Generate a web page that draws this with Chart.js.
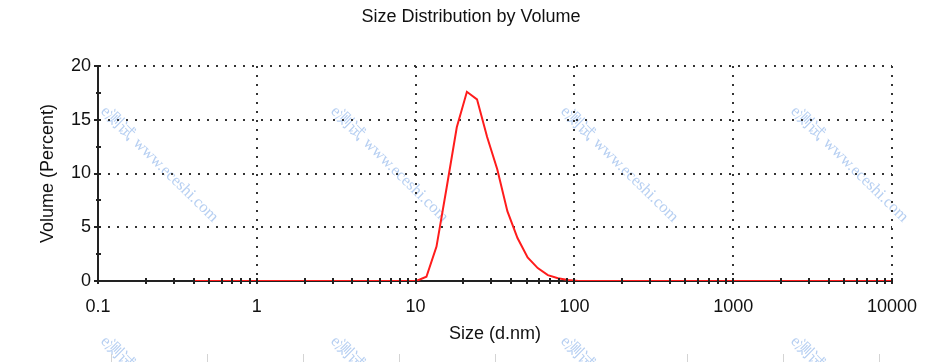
<!DOCTYPE html>
<html>
<head>
<meta charset="utf-8">
<script src="https://cdn.jsdelivr.net/npm/chart.js@4.4.1/dist/chart.umd.min.js"></script>
<style>
  html, body { margin: 0; padding: 0; background: #fff; }
  #wrap { width: 951px; height: 362px; }
</style>
</head>
<body>
<div id="wrap"><canvas id="sizeChart" width="951" height="362"></canvas></div>
<script>
// size bins (d.nm) and volume percent
const sizes = [
  0.4, 0.4632, 0.5365, 0.6213, 0.7195, 0.8332, 0.9649,
  1.117, 1.294, 1.499, 1.736, 2.01, 2.328, 2.696, 3.122, 3.615, 4.187, 4.849, 5.615, 6.503, 7.531, 8.721,
  10.1, 11.7, 13.54, 15.69, 18.17, 21.04, 24.36, 28.21, 32.67, 37.84, 43.82, 50.75, 58.77, 68.06, 78.82, 91.28,
  105.7, 122.4, 141.8, 164.2, 190.1, 220.2, 255, 295.3, 342, 396.1, 458.7, 531.2, 615.1, 712.4, 825, 955.4,
  1106, 1281, 1484, 1718, 1990, 2305, 2669, 3091, 3580, 4145, 4801, 5560, 6439, 7456, 8635, 10000
];
const volume = [
  0, 0, 0, 0, 0, 0, 0,
  0, 0, 0, 0, 0, 0, 0, 0, 0, 0, 0, 0, 0, 0, 0,
  0, 0.4, 3.2, 8.7, 14.3, 17.6, 16.9, 13.4, 10.4, 6.5, 4.0, 2.2, 1.2, 0.55, 0.25, 0.1,
  0, 0, 0, 0, 0, 0, 0, 0, 0, 0, 0, 0, 0, 0, 0, 0,
  0, 0, 0, 0, 0, 0, 0, 0, 0, 0, 0, 0, 0, 0, 0, 0
];

const xMajorTicks = [0.1, 1, 10, 100, 1000, 10000];
const yMajorTicks = [0, 5, 10, 15, 20];
const titleText = 'Size Distribution by Volume';
const xTitle = 'Size (d.nm)';
const yTitle = 'Volume (Percent)';
const watermark = 'e测试 www.eceshi.com';

const FONT = "'Liberation Sans', Arial, sans-serif";
const TEXT = '#111';

// minor ticks 2..9 inside every decade
const xTicks = [];
xMajorTicks.forEach((m, i) => {
  xTicks.push(m);
  if (i < xMajorTicks.length - 1) {
    for (let k = 2; k < 10; k++) xTicks.push(+(m * k).toPrecision(6));
  }
});
const yTicks = [];
yMajorTicks.forEach((m, i) => {
  yTicks.push(m);
  if (i < yMajorTicks.length - 1) yTicks.push(m + 2.5);
});

const isMajorX = v => xMajorTicks.some(m => Math.abs(m - v) < m * 1e-6);
const isMajorY = v => yMajorTicks.includes(v);

// background, watermark and page decorations
const pagePlugin = {
  id: 'page',
  beforeDraw(chart) {
    const ctx = chart.ctx;
    ctx.save();
    ctx.fillStyle = '#fff';
    ctx.fillRect(0, 0, chart.width, chart.height);

    ctx.font = "16.5px 'Liberation Serif', 'Times New Roman', serif";
    ctx.fillStyle = 'rgba(110, 160, 230, 0.5)';
    ctx.textBaseline = 'middle';
    [109, 339].forEach(y => {
      [103, 333, 563, 793].forEach(x => {
        ctx.save();
        ctx.translate(x, y);
        ctx.rotate(44.5 * Math.PI / 180);
        ctx.fillText(watermark, 0, 0);
        ctx.restore();
      });
    });

    ctx.strokeStyle = '#d4d4d4';
    ctx.lineWidth = 1;
    [111, 207, 303, 399, 495, 687, 783, 879].forEach(x => {
      ctx.beginPath();
      ctx.moveTo(x + 0.5, 354);
      ctx.lineTo(x + 0.5, 362);
      ctx.stroke();
    });
    ctx.restore();
  },
  afterDatasetsDraw(chart) {
    const ctx = chart.ctx;
    const xs = chart.scales.x, ys = chart.scales.y;
    const y0 = ys.getPixelForValue(0);
    const x0 = xs.getPixelForValue(0.1);
    ctx.save();
    ctx.strokeStyle = '#222';
    ctx.lineWidth = 2;
    xTicks.forEach(v => {
      const x = Math.round(xs.getPixelForValue(v));
      ctx.beginPath();
      ctx.moveTo(x, y0 - 3);
      ctx.lineTo(x, y0 + 3);
      ctx.stroke();
    });
    yTicks.forEach(v => {
      const y = Math.round(ys.getPixelForValue(v));
      const left = isMajorY(v) ? 4 : 2;
      ctx.beginPath();
      ctx.moveTo(x0 - left, y);
      ctx.lineTo(x0 + 3, y);
      ctx.stroke();
    });

    ctx.fillStyle = TEXT;
    ctx.font = '18px ' + FONT;
    ctx.textAlign = 'center';
    ctx.textBaseline = 'middle';
    ctx.fillText(titleText, 471, 17);
    ctx.restore();
  }
};

const ctx = document.getElementById('sizeChart').getContext('2d');
new Chart(ctx, {
  type: 'line',
  data: {
    datasets: [{
      data: sizes.map((s, i) => ({ x: s, y: volume[i] })),
      borderColor: '#ff1c1c',
      borderWidth: 2,
      pointRadius: 0,
      tension: 0,
      fill: false
    }]
  },
  options: {
    responsive: false,
    animation: false,
    events: [],
    layout: { padding: { left: 0, right: 59, top: 66, bottom: 0 } },
    plugins: {
      legend: { display: false },
      tooltip: { enabled: false },
      title: { display: false }
    },
    scales: {
      x: {
        type: 'logarithmic',
        min: 0.1,
        max: 10000,
        afterBuildTicks: s => { s.ticks = xTicks.map(v => ({ value: v })); },
        afterFit: s => { s.height = 81; },
        ticks: {
          autoSkip: false,
          maxRotation: 0,
          padding: 15,
          color: TEXT,
          font: { family: FONT, size: 18 },
          callback: v => isMajorX(v) ? String(v) : ''
        },
        grid: {
          drawTicks: false,
          color: c => (c.tick && isMajorX(c.tick.value) && c.tick.value !== 0.1) ? '#333' : 'transparent',
          lineWidth: 2
        },
        border: { display: true, color: '#222', width: 2, dash: [2, 7] },
        title: {
          display: true,
          text: xTitle,
          color: TEXT,
          font: { family: FONT, size: 18 },
          padding: { top: 0, bottom: 17 }
        }
      },
      y: {
        type: 'linear',
        min: 0,
        max: 20,
        afterBuildTicks: s => { s.ticks = yTicks.map(v => ({ value: v })); },
        afterFit: s => { s.width = 98; },
        ticks: {
          autoSkip: false,
          padding: 7,
          color: TEXT,
          font: { family: FONT, size: 18 },
          callback: v => isMajorY(v) ? String(v) : ''
        },
        grid: {
          drawTicks: false,
          color: c => (c.tick && isMajorY(c.tick.value) && c.tick.value !== 0) ? '#333' : 'transparent',
          lineWidth: 2
        },
        border: { display: true, color: '#222', width: 2, dash: [2, 7] },
        title: {
          display: true,
          text: yTitle,
          color: TEXT,
          font: { family: FONT, size: 18 },
          padding: { top: 37, bottom: 0 }
        }
      }
    }
  },
  plugins: [pagePlugin]
});
</script>
</body>
</html>
